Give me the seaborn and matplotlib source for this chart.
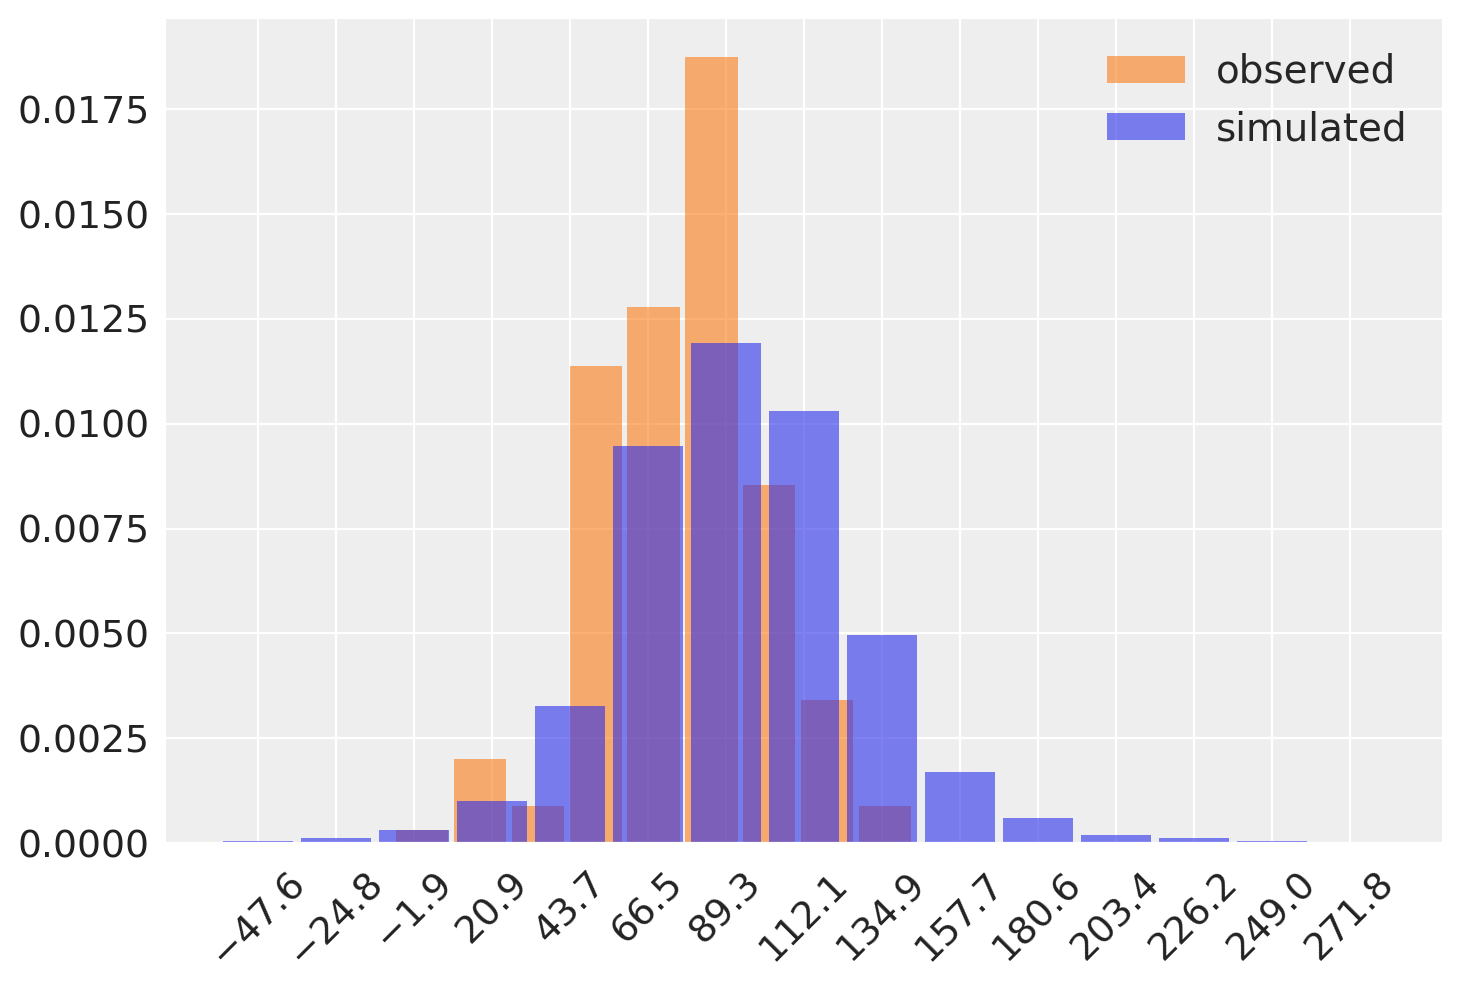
"""Observed vs simulated density histograms (posterior predictive style)."""

import matplotlib
matplotlib.use("Agg")
import matplotlib.pyplot as plt
import numpy as np
import pandas as pd
import seaborn as sns
from matplotlib.ticker import FormatStrFormatter

# simulated: bin centres (also the x tick values) and density per bin
sim_centers = [-47.6, -24.8, -1.9, 20.9, 43.7, 66.5, 89.3, 112.1, 134.9,
               157.7, 180.6, 203.4, 226.2, 249.0, 271.8]
sim_density = [0.00005, 0.00012, 0.00031, 0.00100, 0.00327, 0.00946, 0.01193,
               0.01030, 0.00497, 0.00170, 0.00060, 0.00020, 0.00012, 0.00004,
               0.00001]

# observed: bin edges and density per bin
obs_edges = [-8.2, 8.75, 25.7, 42.65, 59.6, 76.55, 93.5, 110.45, 127.4, 144.35]
obs_density = [0.00031, 0.00201, 0.00088, 0.01138, 0.01279, 0.01874, 0.00853,
               0.00342, 0.00088]

ORANGE = "#fa7c17"
BLUE = "#2a2eec"


def main() -> None:
    sns.set_style("darkgrid", rc={
        "axes.facecolor": "#eeeeee",
        "grid.color": "white",
        "grid.linewidth": 0.8,
        "xtick.major.size": 0,
        "ytick.major.size": 0,
    })
    plt.rcParams["font.family"] = ["DejaVu Sans"]

    fig = plt.figure(figsize=(7.315, 4.915), dpi=200)
    ax = fig.add_axes([0.1128, 0.1424, 0.8735, 0.8393])

    c = np.array(sim_centers)
    mids = (c[1:] + c[:-1]) / 2
    half = (c[1] - c[0]) / 2
    sim_edges = [float(v) for v in np.r_[c[0] - half, mids, c[-1] + half]]
    oe = np.array(obs_edges)
    obs = pd.DataFrame({"x": (oe[1:] + oe[:-1]) / 2, "w": obs_density})
    sim = pd.DataFrame({"x": c, "w": sim_density})

    sns.histplot(data=obs, x="x", weights="w", bins=list(obs_edges), shrink=0.9,
                 color=ORANGE, alpha=0.6, linewidth=0, label="observed", ax=ax)
    sns.histplot(data=sim, x="x", weights="w", bins=sim_edges, shrink=0.9,
                 color=BLUE, alpha=0.6, linewidth=0, label="simulated", ax=ax)

    ax.set_xticks(sim_centers)
    ax.set_xticklabels([f"{v:.1f}".replace("-", "\u2212") for v in sim_centers],
                       rotation=45)
    ax.yaxis.set_major_formatter(FormatStrFormatter("%.4f"))
    ax.set_yticks(np.arange(0, 0.0176, 0.0025))
    ax.tick_params(axis="both", labelsize=13.6, colors="#222222")
    ax.tick_params(axis="x", pad=4.5)
    ax.tick_params(axis="y", pad=2)
    ax.set_xlabel("")
    ax.set_ylabel("")
    ax.legend(loc="upper right", frameon=False, fontsize=14, labelspacing=0.5)

    fig.savefig("out.png", dpi=200)
    plt.close(fig)


if __name__ == "__main__":
    main()
